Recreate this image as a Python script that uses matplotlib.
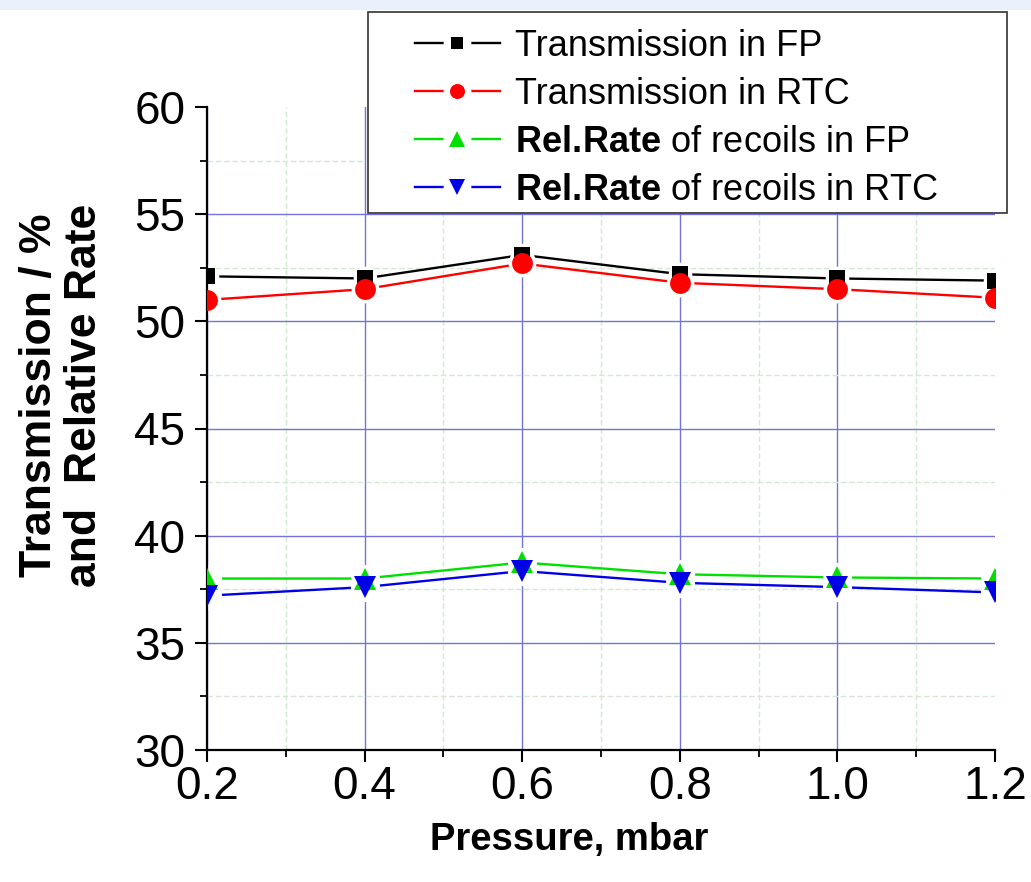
"""Transmission and relative recoil rate vs gas pressure"""

import matplotlib
matplotlib.use("Agg")
from matplotlib import pyplot as plt
from matplotlib.lines import Line2D
from matplotlib.patches import Rectangle
from matplotlib.ticker import MultipleLocator

# data
pressure = [0.2, 0.4, 0.6, 0.8, 1.0, 1.2]
trans_fp = [52.1, 52.0, 53.1, 52.2, 52.0, 51.9]
trans_rtc = [51.0, 51.5, 52.7, 51.8, 51.5, 51.1]
rate_fp = [38.0, 38.0, 38.75, 38.2, 38.05, 38.0]
rate_rtc = [37.2, 37.6, 38.35, 37.8, 37.6, 37.35]
x_ticks = [0.2, 0.4, 0.6, 0.8, 1.0, 1.2]
y_ticks = [30, 35, 40, 45, 50, 55, 60]
labels = ["Transmission in FP", "Transmission in RTC",
          r"$\mathbf{Rel.\!Rate}$ of recoils in FP",
          r"$\mathbf{Rel.\!Rate}$ of recoils in RTC"]

plt.rcParams["font.family"] = ["Liberation Sans", "DejaVu Sans"]
plt.rcParams["mathtext.fontset"] = "custom"
plt.rcParams["mathtext.bf"] = "Liberation Sans:bold"
plt.rcParams["mathtext.rm"] = "Liberation Sans"

W, H = 1031, 882
fig = plt.figure(figsize=(W / 100, H / 100), dpi=100)
fig.patches.append(Rectangle((0, 1 - 10 / H), 1, 10 / H, transform=fig.transFigure,
                             facecolor="#e9f2fc", edgecolor="none"))

ax = fig.add_axes([207 / W, 1 - 750 / H, (995 - 207) / W, (750 - 107) / H])

# general plot details
ax.set_xlim(0.2, 1.2)
ax.set_ylim(30, 60)
ax.set_xticks(x_ticks)
ax.set_yticks(y_ticks)
ax.set_xticklabels([f"{v:.1f}" for v in x_ticks])
ax.xaxis.set_minor_locator(MultipleLocator(0.1))
ax.yaxis.set_minor_locator(MultipleLocator(2.5))
for side in ["top", "right"]:
    ax.spines[side].set_visible(False)
for side in ["left", "bottom"]:
    ax.spines[side].set_linewidth(1.6)
ax.tick_params(which="major", direction="out", length=8.5, width=1.5, labelsize=33)
ax.tick_params(which="minor", direction="out", length=5, width=1.3)
ax.tick_params(axis="y", which="major", pad=7)
ax.tick_params(axis="x", which="major", pad=2)

ax.set_axisbelow(True)
ax.grid(which="major", color="#7474d6", linewidth=1.0)
ax.grid(which="minor", color="#d2e9d2", linewidth=1.0, linestyle=(0, (4, 2)))
# no grid line on the top and right edges
ax.yaxis.get_gridlines()[-1].set_visible(False)
ax.xaxis.get_gridlines()[-1].set_visible(False)

# plotting information: lines, then white gaps, then markers (Origin style)
series = [(trans_fp, "black", "s", 12),
          (trans_rtc, "#ff0000", "o", 15),
          (rate_fp, "#00e000", "^", 16),
          (rate_rtc, "#0000e6", "v", 16)]
for yv, c, m, ms in series:
    ax.plot(pressure, yv, color=c, linewidth=1.7, zorder=2)
for yv, c, m, ms in series:
    ax.plot(pressure, yv, linestyle="none", marker="o", markersize=ms + 5, color="white",
            markeredgewidth=0, zorder=2.5)
for yv, c, m, ms in series:
    ax.plot(pressure, yv, linestyle="none", marker=m, markersize=ms, color=c,
            markeredgewidth=0, zorder=3)

# legend with proxies, same look
handles = []
for yv, c, m, ms in series:
    handles.append((Line2D([], [], color=c, linewidth=1.7),
                    Line2D([], [], linestyle="none", marker="o", markersize=20,
                           color="white", markeredgewidth=0),
                    Line2D([], [], linestyle="none", marker=m, markersize=ms * 0.72,
                           color=c, markeredgewidth=0)))
leg = fig.legend(handles, labels, loc="upper left", bbox_to_anchor=(415 / W, 1 - 29 / H),
                 frameon=False, borderpad=0, borderaxespad=0, handlelength=2.35,
                 handletextpad=0.42, labelspacing=0.36, prop={"size": 26})
fig.patches.append(Rectangle((368 / W, 1 - 213 / H), (1007 - 368) / W, (213 - 12) / H,
                             transform=fig.transFigure, facecolor="white",
                             edgecolor="#333333", linewidth=1.2, zorder=0.5))
leg.set_zorder(3)

# axis labels
fig.text(62 / W, 1 - 395 / H, "Transmission / %\nand  Relative Rate", rotation=90,
         ha="center", va="center", multialignment="center", fontsize=32,
         fontweight="bold", linespacing=1.15)
fig.text(569 / W, 1 - 850 / H, "Pressure, mbar", ha="center", va="baseline",
         fontsize=27.5, fontweight="bold")

fig.savefig("out.png", dpi=100)
